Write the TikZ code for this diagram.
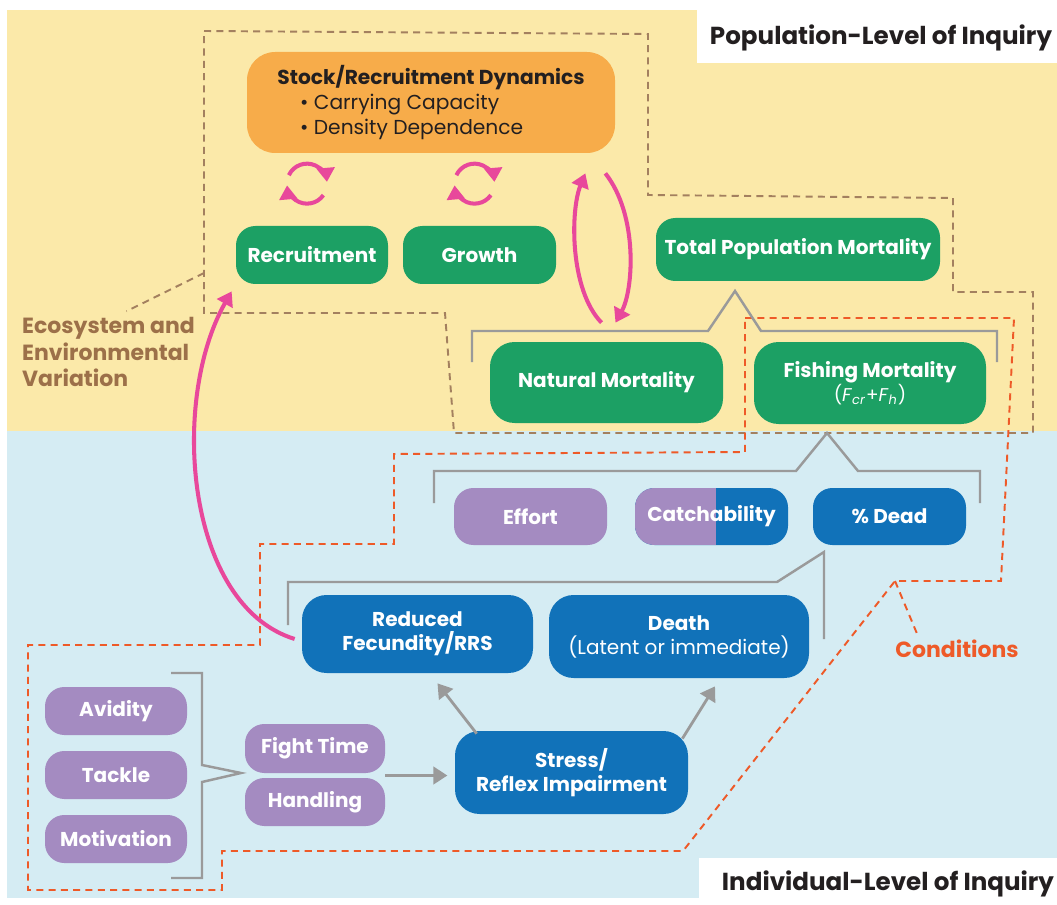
\documentclass[tikz,border=0pt]{standalone}
\usepackage{fontspec}
\setmainfont{Poppins}
\usetikzlibrary{arrows.meta,calc}

\definecolor{popbg}{HTML}{FBE9A9}
\definecolor{indbg}{HTML}{D5ECF3}
\definecolor{stockfill}{HTML}{F7AC4A}
\definecolor{popgreen}{HTML}{1CA064}
\definecolor{indpurple}{HTML}{A48BC1}
\definecolor{indblue}{HTML}{1172B9}
\definecolor{loopink}{HTML}{E8489B}
\definecolor{ecobrown}{HTML}{A3805F}
\definecolor{ecotext}{HTML}{9C7049}
\definecolor{condred}{HTML}{EE5A28}
\definecolor{linkgray}{HTML}{9A9A9A}
\definecolor{inktext}{HTML}{231F20}

\tikzset{
  box/.style={rounded corners=11pt, inner sep=0pt, text=white, align=center,
    font=\fontsize{11.4}{13.6}\selectfont\bfseries},
  size/.style 2 args={minimum width=#1*0.02cm, minimum height=#2*0.02cm},
  greenbox/.style={box, fill=popgreen},
  bluebox/.style={box, fill=indblue},
  purplebox/.style={box, fill=indpurple},
  bracket/.style={linkgray, line width=1.4pt},
  grayarrow/.style={linkgray, line width=1.6pt, -{Triangle[width=10pt,length=8pt]}},
  pinkarrow/.style={loopink, line width=2.3pt, -{Triangle[width=10pt,length=8pt]}},
  ecodash/.style={ecobrown, line width=1.1pt, dash pattern=on 4pt off 3pt},
  conddash/.style={condred, line width=1.1pt, dash pattern=on 4pt off 3pt},
  levellabel/.style={text=inktext, font=\fontsize{14}{16}\selectfont\bfseries},
}

\begin{document}
\begin{tikzpicture}[x=0.02cm,y=-0.02cm]
  \useasboundingbox (0,0) rectangle (1057,905);
  % population and individual levels
  \fill[popbg] (7,10) rectangle (1057,431);
  \fill[indbg] (7,431) rectangle (1057,898);
  \fill[white] (697,10) rectangle (1057,63);
  \fill[white] (699,858) rectangle (1057,905);
  \node[levellabel] (poplevel) at (881,38) {Population-Level of Inquiry};
  \node[levellabel] (indlevel) at (888,884) {Individual-Level of Inquiry};

  % dashed outlines
  \coordinate (ecocorner) at (204,273);
  \coordinate (condcorner) at (895,581);
  \draw[ecodash] (204,31) -- (648,34) -- (648,195) -- (953,198) -- (953,292) -- (1033,292)
    -- (1033,433) -- (454,433) -- (445,313) -- (204,313) -- cycle;
  \draw[conddash] (745,318) -- (1014,318) -- (1001,581) -- (condcorner) -- (683,851) -- (222,851)
    -- (222,890) -- (28,890) -- (28,645) -- (260,645) -- (260,544) -- (394,544) -- (394,454)
    -- (745,452) -- cycle;

  \node[anchor=west, align=left, text=ecotext, font=\fontsize{12.5}{15}\selectfont\bfseries]
    (eco) at (16,352) {Ecosystem and\\Environmental\\Variation};
  \draw[ecodash] (ecocorner) -- ($(eco.north)+(18,0)$);
  \node[text=condred, font=\fontsize{12.5}{15}\selectfont\bfseries] (cond) at (957,649) {Conditions};
  \draw[conddash] (condcorner) -- ($(cond.north west)+(28,0)$);

  % population level boxes
  \node[box, fill=stockfill, text=inktext, rounded corners=16pt, size={368}{101}, align=left,
    font=\fontsize{11.5}{14.2}\selectfont] (stock) at (431,102.5)
    {\textbf{Stock/Recruitment Dynamics}\\
     \hspace*{13pt}• Carrying Capacity\\
     \hspace*{13pt}• Density Dependence};
  \node[greenbox, size={152}{58}] (recr) at (312,255) {Recruitment};
  \node[greenbox, size={153}{58}] (growth) at (479.5,255) {Growth};
  \node[greenbox, size={284}{63}] (totmort) at (798,249.5) {Total Population Mortality};
  \node[greenbox, rounded corners=14pt, size={233}{81}] (natmort) at (606.5,382.5) {Natural Mortality};
  \node[greenbox, rounded corners=14pt, size={232}{82}] (fishmort) at (870,383)
    {Fishing Mortality\\{\mdseries\fontsize{10.5}{12}\selectfont(\textit{F}\textsubscript{\textit{cr}}+\textit{F}\textsubscript{\textit{h}})}};

  % individual level boxes
  \node[purplebox, size={153}{57}] (effort) at (530.5,516.5) {Effort};
  \node[bluebox, size={153}{57},
    path picture={\fill[indpurple, sharp corners] (path picture bounding box.south west)
      rectangle ([xshift=1.62cm]path picture bounding box.north west);}] (catch) at (711.5,516.5) {Catchability};
  \node[bluebox, size={153}{57}] (dead) at (889.5,516.5) {\% Dead};
  \node[bluebox, rounded corners=14pt, size={231}{78}] (reduced) at (417.5,634) {Reduced\\Fecundity/RRS};
  \node[bluebox, rounded corners=14pt, size={260}{83}] (death) at (679,636.5)
    {Death\\{\mdseries (Latent or immediate)}};
  \node[purplebox, size={142}{48}] (avid) at (116,711) {Avidity};
  \node[purplebox, size={142}{48}] (tackle) at (116,775) {Tackle};
  \node[purplebox, size={142}{48}] (motiv) at (116,839) {Motivation};
  \node[purplebox, size={140}{49}] (fight) at (315,748.5) {Fight Time};
  \node[purplebox, size={140}{48}] (hand) at (315,802) {Handling};
  \node[bluebox, rounded corners=14pt, size={233}{83}] (stress) at (571.5,772.5) {Stress/\\Reflex Impairment};

  % grouping brackets
  \draw[bracket] (472,362) |- (708,331) -- (735,291) -- (761,331) -| (997,362);
  \draw[bracket] (434,503) |- (796,471) -- (827,433) -- (858,471) -| (980,503);
  \draw[bracket] (288,625) |- (777,582) -- (824,552) -- (824,639);
  \draw[bracket] (171,673) -| (202,765) -- (241,773) -- (202,782) |- (171,878);

  % gray arrows
  \draw[grayarrow] ($(fight.south east)!.5!(hand.north east)$) -- ++(62,0);
  \draw[grayarrow] ($(stress.north west)+(22,3)$) -- ($(reduced.south)+(20,10)$);
  \draw[grayarrow] ($(stress.north east)+(-6,8)$) -- ($(death.south)+(36,8)$);

  % feedback loops
  \foreach \n in {recr,growth} {
    \coordinate (cyc) at ($(\n.north)+(-5,-42)$);
    \draw[pinkarrow] (cyc) ++(-155:20) arc[start angle=-155, end angle=-5, radius=20];
    \draw[pinkarrow] (cyc) ++(35:20) arc[start angle=35, end angle=175, radius=20];
  }
  \draw[pinkarrow] ($(natmort.north)+(-5,-19)$) .. controls +(-32,-33) and +(-15,37) .. ($(stock.south east)+(-30,20)$);
  \draw[pinkarrow] ($(stock.south east)+(-10,20)$) .. controls +(33,42) and +(18,-33) .. ($(natmort.north)+(9,-19)$);
  \draw[pinkarrow] ($(reduced.west)+(-7,5)$) .. controls (185,605) and (170,400) .. ($(recr.south west)+(-4,7)$);
\end{tikzpicture}
\end{document}
